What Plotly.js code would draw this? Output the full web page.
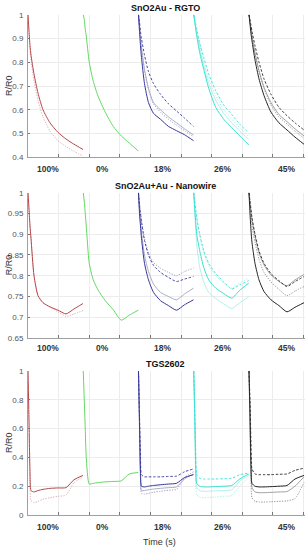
<!DOCTYPE html>
<html>
<head>
<meta charset="utf-8">
<script src="https://cdn.plot.ly/plotly-3.0.1.min.js"></script>
<style>html,body{margin:0;padding:0;background:#fff;}#chart{width:307px;height:550px;}</style>
</head>
<body>
<div id="chart"></div>
<script>
// ---------- data ----------
const localT = [0, 0.033, 0.065, 0.098, 0.196, 0.327, 0.49, 0.719, 0.98, 1.242, 1.503, 1.797];
const segStart = [0, 1.805, 3.61, 5.415, 7.22];
const conditions = ['100%', '0%', '18%', '26%', '45%'];
const conditionPos = [0.654, 2.42, 4.38, 6.34, 8.43];
const panelTitles = ['SnO2Au - RGTO', 'SnO2Au+Au - Nanowire', 'TGS2602'];

// Panel 1: SnO2Au - RGTO
const rgto_100_a = [1, 0.93, 0.87, 0.83, 0.75, 0.67, 0.6, 0.545, 0.505, 0.477, 0.455, 0.433];
const rgto_100_d = [1, 0.92, 0.855, 0.81, 0.72, 0.64, 0.57, 0.51, 0.47, 0.445, 0.425, 0.405];
const rgto_0_a   = [1, 0.98, 0.94, 0.91, 0.8, 0.72, 0.655, 0.59, 0.53, 0.49, 0.46, 0.427];
const rgto_18_a  = [1, 0.93, 0.87, 0.82, 0.71, 0.63, 0.585, 0.56, 0.53, 0.512, 0.495, 0.47];
const rgto_18_b  = [1, 0.97, 0.93, 0.9, 0.83, 0.76, 0.71, 0.665, 0.625, 0.595, 0.565, 0.53];
const rgto_18_c  = [1, 0.95, 0.9, 0.86, 0.77, 0.69, 0.63, 0.6, 0.57, 0.545, 0.52, 0.494];
const rgto_18_d  = [1, 0.95, 0.9, 0.86, 0.765, 0.685, 0.625, 0.59, 0.56, 0.535, 0.512, 0.487];
const rgto_26_a  = [1, 0.97, 0.94, 0.91, 0.84, 0.77, 0.69, 0.61, 0.56, 0.525, 0.49, 0.452];
const rgto_26_b  = [1, 0.98, 0.96, 0.94, 0.88, 0.82, 0.75, 0.68, 0.62, 0.58, 0.54, 0.503];
const rgto_26_c  = [1, 0.97, 0.945, 0.92, 0.855, 0.785, 0.71, 0.64, 0.585, 0.545, 0.51, 0.475];
const rgto_26_d  = [1, 0.98, 0.95, 0.93, 0.87, 0.8, 0.73, 0.66, 0.6, 0.56, 0.525, 0.487];
const rgto_45_a  = [1, 0.96, 0.92, 0.89, 0.81, 0.73, 0.66, 0.59, 0.545, 0.515, 0.485, 0.455];
const rgto_45_b  = [1, 0.98, 0.955, 0.93, 0.87, 0.8, 0.73, 0.665, 0.61, 0.575, 0.545, 0.515];
const rgto_45_c  = [1, 0.97, 0.94, 0.91, 0.84, 0.765, 0.695, 0.63, 0.58, 0.55, 0.52, 0.49];
const rgto_45_d  = [1, 0.97, 0.94, 0.91, 0.835, 0.76, 0.69, 0.62, 0.57, 0.54, 0.51, 0.48];

// Panel 2: SnO2Au+Au - Nanowire
const nw_100_a = [1, 0.96, 0.92, 0.89, 0.8, 0.752, 0.735, 0.725, 0.717, 0.708, 0.72, 0.733];
const nw_100_d = [1, 0.96, 0.92, 0.89, 0.8, 0.752, 0.735, 0.724, 0.713, 0.702, 0.708, 0.716];
const nw_0_a   = [1, 0.98, 0.95, 0.92, 0.83, 0.79, 0.765, 0.74, 0.718, 0.693, 0.705, 0.717];
const nw_18_a  = [1, 0.95, 0.92, 0.89, 0.83, 0.79, 0.76, 0.74, 0.728, 0.717, 0.73, 0.742];
const nw_18_b  = [1, 0.97, 0.95, 0.93, 0.885, 0.85, 0.825, 0.808, 0.796, 0.786, 0.792, 0.798];
const nw_18_c  = [1, 0.96, 0.93, 0.905, 0.85, 0.81, 0.78, 0.76, 0.75, 0.742, 0.756, 0.77];
const nw_18_d  = [1, 0.975, 0.955, 0.935, 0.89, 0.855, 0.832, 0.818, 0.808, 0.8, 0.81, 0.818];
const nw_26_a  = [1, 0.96, 0.93, 0.9, 0.86, 0.82, 0.79, 0.77, 0.757, 0.746, 0.765, 0.782];
const nw_26_b  = [1, 0.98, 0.96, 0.94, 0.9, 0.86, 0.83, 0.805, 0.785, 0.768, 0.778, 0.788];
const nw_26_c  = [1, 0.95, 0.91, 0.875, 0.82, 0.785, 0.76, 0.745, 0.732, 0.721, 0.735, 0.749];
const nw_26_d  = [1, 0.975, 0.955, 0.935, 0.895, 0.855, 0.825, 0.8, 0.782, 0.77, 0.782, 0.795];
const nw_45_a  = [1, 0.95, 0.91, 0.88, 0.83, 0.79, 0.762, 0.742, 0.728, 0.713, 0.724, 0.735];
const nw_45_b  = [1, 0.98, 0.96, 0.94, 0.9, 0.86, 0.83, 0.805, 0.788, 0.774, 0.786, 0.798];
const nw_45_c  = [1, 0.975, 0.955, 0.935, 0.895, 0.855, 0.826, 0.802, 0.786, 0.776, 0.79, 0.803];
const nw_45_d  = [1, 0.97, 0.945, 0.92, 0.88, 0.84, 0.808, 0.785, 0.767, 0.752, 0.763, 0.774];

// Panel 3: TGS2602
const tgs_100_a = [1, 0.65, 0.3, 0.17, 0.16, 0.17, 0.178, 0.185, 0.188, 0.19, 0.245, 0.275];
const tgs_100_d = [1, 0.6, 0.25, 0.1, 0.085, 0.095, 0.11, 0.12, 0.13, 0.138, 0.225, 0.265];
const tgs_0_a   = [1, 0.8, 0.6, 0.4, 0.215, 0.22, 0.225, 0.23, 0.233, 0.237, 0.285, 0.295];
const tgs_18_a  = [1, 0.65, 0.3, 0.2, 0.195, 0.2, 0.205, 0.21, 0.215, 0.22, 0.26, 0.28];
const tgs_18_b  = [1, 0.7, 0.4, 0.28, 0.265, 0.265, 0.265, 0.265, 0.268, 0.27, 0.3, 0.32];
const tgs_18_c  = [1, 0.6, 0.28, 0.17, 0.17, 0.175, 0.18, 0.185, 0.19, 0.195, 0.25, 0.285];
const tgs_18_d  = [1, 0.6, 0.25, 0.15, 0.145, 0.15, 0.158, 0.165, 0.172, 0.178, 0.26, 0.3];
const tgs_26_a  = [1, 0.7, 0.35, 0.22, 0.2, 0.195, 0.195, 0.198, 0.2, 0.205, 0.25, 0.285];
const tgs_26_b  = [1, 0.75, 0.45, 0.28, 0.255, 0.25, 0.25, 0.25, 0.252, 0.255, 0.28, 0.29];
const tgs_26_c  = [1, 0.65, 0.3, 0.19, 0.17, 0.165, 0.165, 0.168, 0.17, 0.175, 0.235, 0.275];
const tgs_26_d  = [1, 0.6, 0.25, 0.14, 0.125, 0.12, 0.122, 0.125, 0.13, 0.135, 0.2, 0.265];
const tgs_45_a  = [1, 0.7, 0.35, 0.22, 0.2, 0.195, 0.195, 0.197, 0.2, 0.205, 0.25, 0.275];
const tgs_45_b  = [1, 0.8, 0.5, 0.32, 0.285, 0.28, 0.28, 0.28, 0.283, 0.285, 0.31, 0.325];
const tgs_45_c  = [1, 0.65, 0.3, 0.19, 0.16, 0.155, 0.155, 0.157, 0.16, 0.163, 0.2, 0.265];
const tgs_45_d  = [1, 0.6, 0.3, 0.12, 0.095, 0.09, 0.09, 0.092, 0.095, 0.098, 0.115, 0.225];

// ---------- styling ----------
const segColors = [
  {main: '#b5474a', light: '#d9adb9'},
  {main: '#62d862', light: '#a3e8a3'},
  {main: '#35359a', light: '#a2a2c4'},
  {main: '#3ae0d3', light: '#a9eee7'},
  {main: '#262626', light: '#969696'}
];
const styleOf = {
  a: (c) => ({color: c.main, width: 1, dash: 'solid'}),
  b: (c) => ({color: c.main, width: 0.9, dash: '2.5px,1.8px'}),
  c: (c) => ({color: c.light, width: 0.9, dash: 'solid'}),
  d: (c) => ({color: c.light, width: 1, dash: '1.2px,1.4px'})
};

const panels = [
  {ax: '', series: [
    [0, 'd', rgto_100_d], [0, 'a', rgto_100_a], [1, 'a', rgto_0_a],
    [2, 'c', rgto_18_c], [2, 'd', rgto_18_d], [2, 'b', rgto_18_b], [2, 'a', rgto_18_a],
    [3, 'c', rgto_26_c], [3, 'd', rgto_26_d], [3, 'b', rgto_26_b], [3, 'a', rgto_26_a],
    [4, 'c', rgto_45_c], [4, 'd', rgto_45_d], [4, 'b', rgto_45_b], [4, 'a', rgto_45_a]
  ]},
  {ax: '2', series: [
    [0, 'd', nw_100_d], [0, 'a', nw_100_a], [1, 'a', nw_0_a],
    [2, 'c', nw_18_c], [2, 'd', nw_18_d], [2, 'b', nw_18_b], [2, 'a', nw_18_a],
    [3, 'c', nw_26_c], [3, 'd', nw_26_d], [3, 'b', nw_26_b], [3, 'a', nw_26_a],
    [4, 'c', nw_45_c], [4, 'd', nw_45_d], [4, 'b', nw_45_b], [4, 'a', nw_45_a]
  ]},
  {ax: '3', series: [
    [0, 'd', tgs_100_d], [0, 'a', tgs_100_a], [1, 'a', tgs_0_a],
    [2, 'c', tgs_18_c], [2, 'd', tgs_18_d], [2, 'b', tgs_18_b], [2, 'a', tgs_18_a],
    [3, 'c', tgs_26_c], [3, 'd', tgs_26_d], [3, 'b', tgs_26_b], [3, 'a', tgs_26_a],
    [4, 'c', tgs_45_c], [4, 'd', tgs_45_d], [4, 'b', tgs_45_b], [4, 'a', tgs_45_a]
  ]}
];

const traces = [];
panels.forEach(p => {
  p.series.forEach(([seg, st, vals]) => {
    traces.push({
      type: 'scatter', mode: 'lines',
      x: localT.map(t => segStart[seg] + t),
      y: vals,
      xaxis: 'x' + p.ax, yaxis: 'y' + p.ax,
      line: Object.assign(styleOf[st](segColors[seg]), {shape: 'spline', smoothing: 0.6}),
      showlegend: false, hoverinfo: 'skip'
    });
  });
});

// ---------- layout ----------
const H = 550;
const py = (px) => 1 - px / H;
const grid = '#ececec';
const axisLine = '#a0a0a0';
const tickFont = {family: 'Liberation Sans, Arial, sans-serif', size: 8, color: '#555'};

function xAxis(anchor) {
  return {
    anchor: anchor, domain: [0, 1], range: [0, 9.05], dtick: 1, tick0: 0,
    showticklabels: false, showgrid: true, gridcolor: grid, gridwidth: 1,
    zeroline: false, showline: true, linecolor: axisLine, linewidth: 1,
    ticks: 'inside', ticklen: 3, tickcolor: '#777'
  };
}
function yAxis(anchor, dom, range, dtick) {
  return {
    anchor: anchor, domain: dom, range: range, dtick: dtick, tick0: 0,
    showgrid: true, gridcolor: grid, zeroline: false,
    showline: true, linecolor: axisLine, linewidth: 1,
    ticks: 'inside', ticklen: 2, tickcolor: '#777',
    tickfont: tickFont, ticklabelstandoff: 2
  };
}

const domains = [
  [py(157.3), py(14.7)],
  [py(338), py(192.7)],
  [py(515), py(371)]
];

const annotations = [];
const titleY = [8, 186, 364];
panelTitles.forEach((t, i) => {
  annotations.push({
    text: '<b>' + t + '</b>', xref: 'paper', yref: 'paper',
    x: (165 - 28) / 277, y: py(titleY[i]), xanchor: 'center', yanchor: 'middle',
    showarrow: false, font: {family: 'Liberation Sans, Arial, sans-serif', size: 9, color: '#111'}
  });
  annotations.push({
    text: 'R/R0', xref: 'paper', yref: 'paper',
    x: (9 - 28) / 277, y: (domains[i][0] + domains[i][1]) / 2, textangle: -90,
    xanchor: 'center', yanchor: 'middle', showarrow: false,
    font: {family: 'Liberation Sans, Arial, sans-serif', size: 9, color: '#333'}
  });
});
const labelY = [169.5, 347.5, 526.5];
labelY.forEach((ly, i) => {
  conditions.forEach((c, k) => {
    annotations.push({
      text: '<b>' + c + '</b>', xref: 'x' + (i === 0 ? '' : i + 1), yref: 'paper',
      x: conditionPos[k], y: py(ly), xanchor: 'center', yanchor: 'middle',
      showarrow: false, font: {family: 'Liberation Sans, Arial, sans-serif', size: 8.5, color: '#333'}
    });
  });
});
annotations.push({
  text: 'Time (s)', xref: 'paper', yref: 'paper',
  x: (159 - 28) / 277, y: py(542), xanchor: 'center', yanchor: 'middle',
  showarrow: false, font: {family: 'Liberation Sans, Arial, sans-serif', size: 9, color: '#333'}
});

const layout = {
  width: 307, height: 550,
  margin: {l: 28, r: 2, t: 0, b: 0},
  paper_bgcolor: '#fff', plot_bgcolor: '#fff',
  showlegend: false,
  xaxis: xAxis('y'), xaxis2: xAxis('y2'), xaxis3: xAxis('y3'),
  yaxis: yAxis('x', domains[0], [0.4, 1], 0.1),
  yaxis2: yAxis('x2', domains[1], [0.65, 1], 0.05),
  yaxis3: yAxis('x3', domains[2], [0, 1], 0.2),
  annotations: annotations
};

Plotly.newPlot('chart', traces, layout, {displayModeBar: false, staticPlot: true});
</script>
</body>
</html>
